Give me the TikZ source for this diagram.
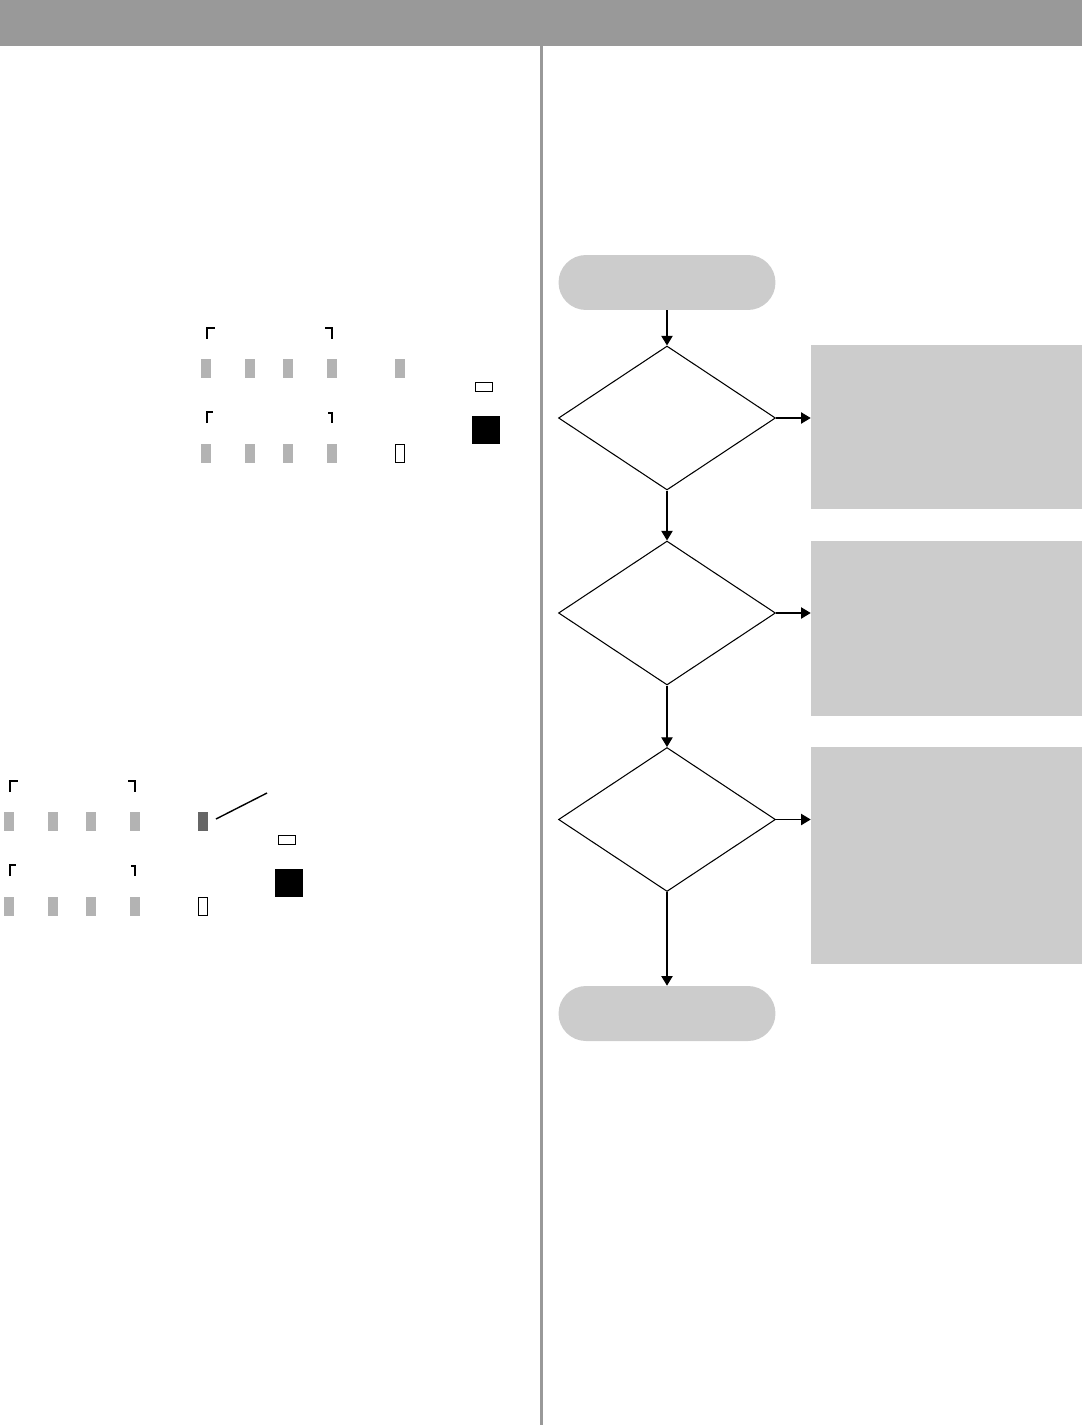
\documentclass[tikz,border=0pt]{standalone}
\usepackage{xcolor}
\usepackage{tikz}
\usetikzlibrary{arrows.meta, shapes.geometric, positioning, calc}
\definecolor{headergray}{RGB}{153,153,153}
\definecolor{boxgray}{RGB}{204,204,204}
\definecolor{bargray}{RGB}{179,179,179}
\definecolor{bardark}{RGB}{102,102,102}

\begin{document}
\begin{tikzpicture}[x=0.02cm, y=-0.02cm,
    terminal/.style={rectangle, rounded corners=0.55cm, fill=boxgray, minimum width=4.34cm, minimum height=1.1cm, inner sep=0pt},
    decision/.style={diamond, draw, line width=0.6pt, minimum width=4.34cm, minimum height=2.88cm, inner sep=0pt},
    notebox/.style={rectangle, fill=boxgray, minimum width=5.42cm, inner sep=0pt},
    flow/.style={line width=0.6pt, -{Triangle[length=5.5pt, width=6.5pt]}},
    corner/.style={line width=1.1pt}]

    \useasboundingbox (0,0) rectangle (1082,1425);

    % Header bar and column rule
    \fill[headergray] (0,0) rectangle (1082,46);
    \fill[headergray] (540,46) rectangle (542.5,1425);

    % Key rows (upper group, and the same shifted down-left)
    \foreach \dx/\dy/\lastbar in {0/0/bargray, -197/453/bardark} {
        \begin{scope}[shift={(\dx,\dy)}]
            % brackets
            \draw[corner] (207,339) -- (207,328) -- (215,328);
            \draw[corner] (325,328) -- (332,328) -- (332,339);
            \draw[corner] (207,423) -- (207,412) -- (213,412);
            \draw[corner] (328,413) -- (332,413) -- (332,423);
            % bars
            \foreach \bx in {201,245,283,327} {
                \fill[bargray] (\bx,359) rectangle ++(10,19);
                \fill[bargray] (\bx,444) rectangle ++(10,19);
            }
            \fill[\lastbar] (395,359) rectangle ++(10,19);
            \draw[line width=0.6pt] (395.5,444.5) rectangle (404.5,462.5);
            % small frame and solid square
            \draw[line width=0.6pt] (475.5,382.5) rectangle (492.5,391.5);
            \fill[black] (472,416) rectangle (500,444);
        \end{scope}
    }
    \draw[line width=0.8pt] (216,819) -- (267,793);

    % Flowchart
    \node[terminal] (start) at (667,282.5) {};
    \node[decision] (dec1) at (667,418) {};
    \node[decision] (dec2) at (667,613) {};
    \node[decision] (dec3) at (667,819.5) {};
    \node[terminal] (stop) at (667,1013.5) {};

    \node[notebox, minimum height=3.28cm] (note1) at (946.5,427) {};
    \node[notebox, minimum height=3.5cm]  (note2) at (946.5,628.5) {};
    \node[notebox, minimum height=4.34cm] (note3) at (946.5,855.5) {};

    \draw[flow] (start) -- (dec1);
    \draw[flow] (dec1) -- (dec2);
    \draw[flow] (dec2) -- (dec3);
    \draw[flow] (dec3) -- (stop);

    \draw[flow] (dec1.east) -- (dec1.east -| note1.west);
    \draw[flow] (dec2.east) -- (dec2.east -| note2.west);
    \draw[flow] (dec3.east) -- (dec3.east -| note3.west);
\end{tikzpicture}
\end{document}
